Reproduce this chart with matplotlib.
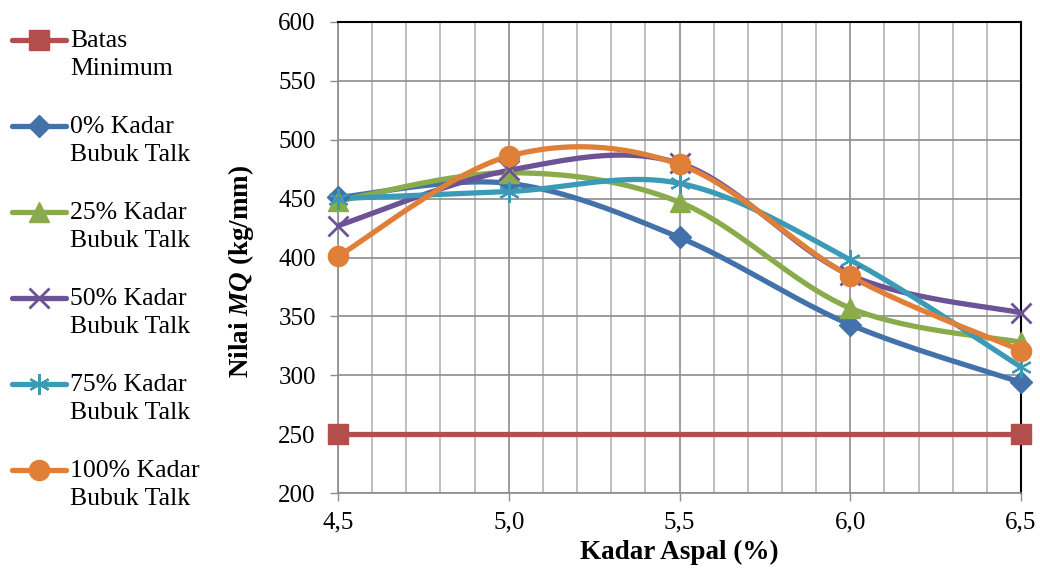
"""Nilai MQ terhadap kadar aspal untuk tiap kadar bubuk talk."""

import matplotlib

matplotlib.use("Agg")
import matplotlib.pyplot as plt  # noqa: E402
import numpy as np  # noqa: E402
from matplotlib.lines import Line2D  # noqa: E402
from matplotlib.ticker import FuncFormatter, MultipleLocator  # noqa: E402

plt.rcParams["font.family"] = ["Liberation Serif", "DejaVu Serif"]
plt.rcParams["mathtext.fontset"] = "custom"
plt.rcParams["mathtext.it"] = "Liberation Serif:italic:bold"
plt.rcParams["mathtext.rm"] = "Liberation Serif:bold"

# --- data ---
kadar_aspal = [4.5, 5.0, 5.5, 6.0, 6.5]
batas_x = [4.5, 6.5]
batas_minimum = [250, 250]
mq_0 = [451, 463, 417, 343, 294]
mq_25 = [448, 472, 447, 357, 328]
mq_50 = [427, 474, 480, 385, 353]
mq_75 = [450, 456, 463, 398, 307]
mq_100 = [401, 486, 479, 384, 321]

labels = ["Batas\nMinimum", "0% Kadar\nBubuk Talk", "25% Kadar\nBubuk Talk",
          "50% Kadar\nBubuk Talk", "75% Kadar\nBubuk Talk", "100% Kadar\nBubuk Talk"]
x_ticks = [4.5, 5.0, 5.5, 6.0, 6.5]
y_ticks = [200, 250, 300, 350, 400, 450, 500, 550, 600]

# colour, marker, marker size, marker edge width
styles = [
    ("#b24f4c", "s", 14, 1),
    ("#4371aa", "D", 11, 1),
    ("#8aab4b", "^", 14, 1),
    ("#6c5296", "x", 14, 2),
    ("#3b9ab6", (6, 2, 0), 15, 1.6),
    ("#e07f38", "o", 14.5, 1),
]


def smooth(x, y, n=40):
    """Spline like a spreadsheet 'smoothed line': Catmull-Rom as cubic Beziers."""
    p = np.column_stack([x, y]).astype(float)
    if len(p) < 3:
        return p[:, 0], p[:, 1]
    ext = np.vstack([p[0], p, p[-1]])
    t = np.linspace(0, 1, n)[:, None]
    out = []
    for i in range(len(p) - 1):
        p0, p1, p2, p3 = ext[i], ext[i + 1], ext[i + 2], ext[i + 3]
        c1 = p1 + (p2 - p0) / 6
        c2 = p2 - (p3 - p1) / 6
        seg = ((1 - t) ** 3) * p1 + 3 * ((1 - t) ** 2) * t * c1 \
            + 3 * (1 - t) * t ** 2 * c2 + t ** 3 * p2
        out.append(seg if i == 0 else seg[1:])
    out = np.vstack(out)
    return out[:, 0], out[:, 1]


fig = plt.figure(figsize=(10.4, 5.76), dpi=100)
ax = fig.add_axes([338 / 1040, 1 - 493 / 576, (1021 - 338) / 1040, (493 - 22) / 576])

series = [(batas_x, batas_minimum)] + [(kadar_aspal, s) for s in
                                       (mq_0, mq_25, mq_50, mq_75, mq_100)]
for (xs, ys), (col, mk, ms, mew) in zip(series, styles):
    sx, sy = smooth(xs, ys)
    ax.plot(sx, sy, color=col, lw=3.8, solid_capstyle="round", zorder=3)
    ax.plot(xs, ys, ls="none", marker=mk, ms=ms, color=col, mec=col,
            mew=mew, zorder=4, clip_on=False)

ax.set_xlim(4.5, 6.5)
ax.set_ylim(200, 600)
ax.set_xticks(x_ticks)
ax.set_yticks(y_ticks)
ax.xaxis.set_minor_locator(MultipleLocator(0.1))
ax.xaxis.set_major_formatter(FuncFormatter(lambda v, _: f"{v:.1f}".replace(".", ",")))
ax.grid(True, which="major", color="#8c8c8c", lw=1.2)
ax.grid(True, which="minor", axis="x", color="#b4b4b4", lw=1.2)
ax.set_axisbelow(True)
ax.tick_params(axis="both", which="major", length=6, width=1, color="#8c8c8c",
               labelsize=18)
ax.tick_params(axis="y", pad=10)
ax.tick_params(axis="x", pad=7)
ax.tick_params(axis="x", which="minor", length=0)
for side in ("left", "bottom"):
    ax.spines[side].set_color("#8c8c8c")
    ax.spines[side].set_linewidth(1.2)
for side in ("top", "right"):
    ax.spines[side].set_color("black")
    ax.spines[side].set_linewidth(1.5)

ax.set_xlabel("Kadar Aspal (%)", fontsize=19.5, fontweight="bold")
ax.set_ylabel("Nilai $MQ$ (kg/mm)", fontsize=19.5, fontweight="bold")
ax.xaxis.set_label_coords(0.5, -0.1)
ax.yaxis.set_label_coords(-0.12, 0.47)

# legend drawn by hand: handle sits beside the first line of each label
W, H = 1040, 576
for i, ((col, mk, ms, mew), lab) in enumerate(zip(styles, labels)):
    yc = 1 - (40 + 86 * i) / H
    fig.add_artist(Line2D([12 / W, 66 / W], [yc, yc], color=col, lw=3.8,
                          solid_capstyle="round"))
    fig.add_artist(Line2D([39 / W], [yc], ls="none", marker=mk, ms=ms,
                          color=col, mec=col, mew=mew))
    fig.text(70 / W, yc + 10 / H, lab, fontsize=18.5, va="top", ha="left",
             linespacing=1.35)

fig.savefig("out.png", dpi=100)
